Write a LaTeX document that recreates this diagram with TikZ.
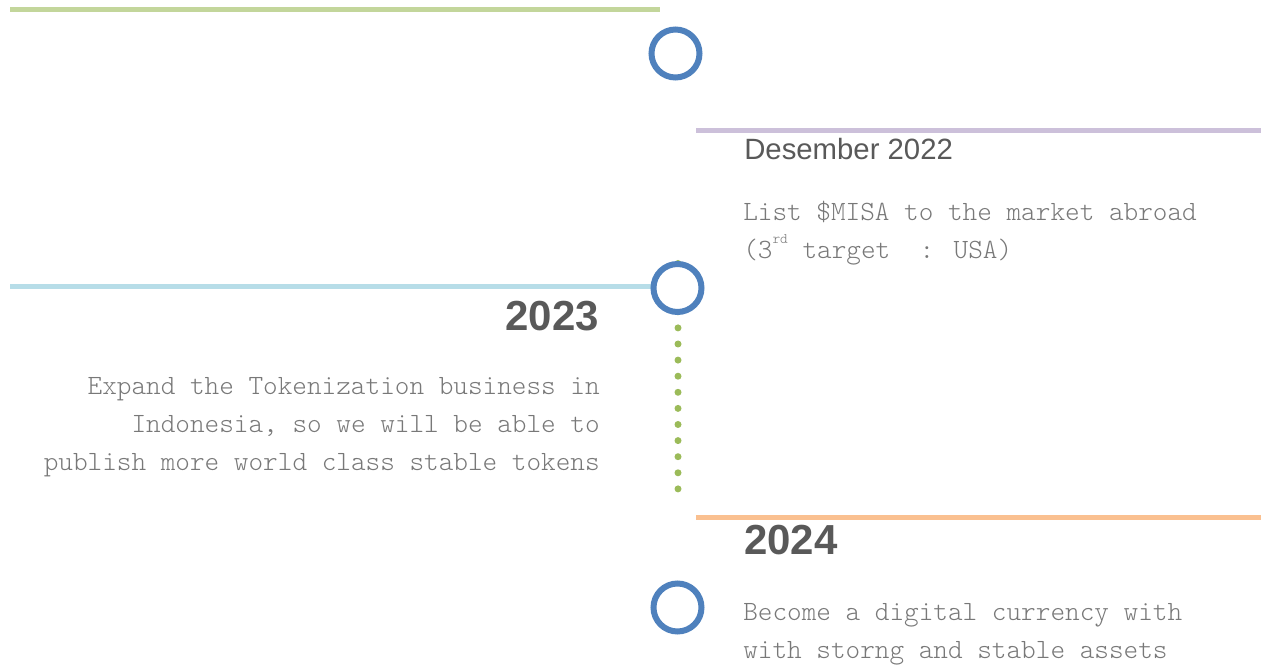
\documentclass[tikz,border=0pt]{standalone}
\usepackage{fontspec}
\setmainfont{Liberation Sans}
\newfontfamily\monofont{lmmonolt10-regular.otf}
\usepackage{tikz}
\usetikzlibrary{calc}

\definecolor{linegreen}{HTML}{C3D69B}
\definecolor{linepurple}{HTML}{CCC0DA}
\definecolor{lineblue}{HTML}{B7DDE8}
\definecolor{lineorange}{HTML}{FAC090}
\definecolor{ringblue}{HTML}{4F81BD}
\definecolor{dotgreen}{HTML}{9BBB59}
\definecolor{headgray}{HTML}{595959}
\definecolor{bodygray}{HTML}{787878}

\newcommand{\smallsup}[1]{\raisebox{0.55em}{\fontsize{11pt}{11pt}\selectfont #1}}

\tikzset{
  bar/.style={line width=3.75pt},
  ring/.style={circle,draw=ringblue,line width=4.5pt,fill=white,minimum size=36pt,inner sep=0pt},
  dotline/.style={dotgreen,line width=5.25pt,line cap=round,dash pattern=on 0pt off 12.075pt},
  datelabel/.style={inner sep=0pt,text=headgray,font=\fontsize{22pt}{26pt}\selectfont},
  yearlabel/.style={inner sep=0pt,text=headgray,font=\fontsize{31.5pt}{36pt}\selectfont\bfseries},
  bodytext/.style={inner sep=0pt,text=bodygray,font=\monofont\fontsize{20.9pt}{28.5pt}\selectfont}
}

\begin{document}
\begin{tikzpicture}[x=0.75pt,y=-0.75pt]
        \useasboundingbox (0,0) rectangle (1261,666);

        % separator bars
        \draw[bar,linegreen] (10,9.5) -- (660,9.5);
        \draw[bar,linepurple] (696,131) -- (1261,131);
        \draw[bar,lineblue] (10,287) -- (660,287);
        \draw[bar,lineorange] (696,518) -- (1261,518);

        % dotted stem
        \coordinate (dottop) at (678,263.5);
        \coordinate (dotend) at (678,489.6);
        \draw[dotline] (dottop) -- (dotend);

        % rings
        \node[ring] (ring22) at (675.5,53.5) {};
        \node[ring] (ring23) at (677.5,288) {};
        \node[ring] (ring24) at (677.5,607.5) {};

        % Desember 2022
        \node[datelabel,anchor=base west] (date22) at (744,160) {Desember 2022};
        \node[bodytext,anchor=base west,align=left] (text22) at (743,259)
            {List \$MISA to the market abroad\\(3\smallsup{rd} target\ \ : USA)};

        % 2023
        \node[yearlabel,anchor=base east] (year23) at (599,331) {2023};
        \node[bodytext,anchor=base east,align=right] (text23) at (600,471)
            {Expand the Tokenization business in\\Indonesia, so we will be able to\\publish more world class stable tokens};

        % 2024
        \node[yearlabel,anchor=base west] (year24) at (744,555) {2024};
        \node[bodytext,anchor=base west,align=left] (text24) at (743,658)
            {Become a digital currency with\\with storng and stable assets};
\end{tikzpicture}
\end{document}
